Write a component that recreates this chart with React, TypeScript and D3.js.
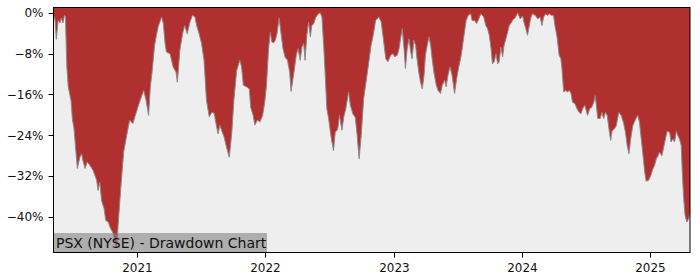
import React from "react";
import * as d3 from "d3";

const dates: string[] = [
"2020-05-07","2020-05-11","2020-05-15","2020-05-20","2020-05-25","2020-05-29","2020-06-03","2020-06-07","2020-06-10","2020-06-14",
"2020-06-18","2020-06-26","2020-06-30","2020-07-04","2020-07-12","2020-07-14","2020-07-21","2020-07-26","2020-07-30","2020-08-05",
"2020-08-11","2020-08-19","2020-08-28","2020-09-07","2020-09-11","2020-09-16","2020-09-21","2020-09-28","2020-10-03","2020-10-10",
"2020-10-15","2020-10-24","2020-11-01","2020-11-04","2020-11-07","2020-11-16","2020-11-23","2020-11-30","2020-12-10","2020-12-19",
"2020-12-29","2021-01-07","2021-01-19","2021-01-26","2021-02-02","2021-02-07","2021-02-12","2021-02-19","2021-02-26","2021-03-01",
"2021-03-11","2021-03-16","2021-03-21","2021-03-25","2021-04-04","2021-04-13","2021-04-21","2021-04-25","2021-05-02","2021-05-10",
"2021-05-16","2021-05-23","2021-05-31","2021-06-07","2021-06-14","2021-06-19","2021-06-26","2021-07-03","2021-07-10","2021-07-17",
"2021-07-25","2021-08-01","2021-08-08","2021-08-15","2021-08-19","2021-08-24","2021-08-29","2021-09-05","2021-09-12","2021-09-20",
"2021-09-27","2021-10-03","2021-10-11","2021-10-20","2021-10-25","2021-10-30","2021-11-08","2021-11-16","2021-11-20","2021-11-27",
"2021-12-02","2021-12-09","2021-12-16","2021-12-24","2021-12-30","2022-01-04","2022-01-10","2022-01-15","2022-01-19","2022-01-24",
"2022-01-29","2022-02-03","2022-02-09","2022-02-14","2022-02-20","2022-02-26","2022-03-05","2022-03-11","2022-03-15","2022-03-22",
"2022-03-30","2022-04-04","2022-04-10","2022-04-15","2022-04-20","2022-04-24","2022-04-29","2022-05-04","2022-05-09","2022-05-13",
"2022-05-18","2022-05-25","2022-06-01","2022-06-06","2022-06-11","2022-06-16","2022-06-20","2022-06-25","2022-06-30","2022-07-07",
"2022-07-14","2022-07-19","2022-07-26","2022-07-31","2022-08-07","2022-08-12","2022-08-18","2022-08-26","2022-08-31","2022-09-07",
"2022-09-14","2022-09-19","2022-09-25","2022-10-01","2022-10-08","2022-10-14","2022-10-22","2022-10-29","2022-11-05","2022-11-11",
"2022-11-20","2022-11-27","2022-12-03","2022-12-10","2022-12-16","2022-12-24","2022-12-31","2023-01-04","2023-01-12","2023-01-17",
"2023-01-21","2023-01-26","2023-01-31","2023-02-04","2023-02-09","2023-02-14","2023-02-19","2023-02-23","2023-02-28","2023-03-05",
"2023-03-09","2023-03-14","2023-03-19","2023-03-24","2023-03-29","2023-04-02","2023-04-07","2023-04-12","2023-04-17","2023-04-21",
"2023-04-26","2023-05-03","2023-05-08","2023-05-15","2023-05-20","2023-05-27","2023-05-31","2023-06-05","2023-06-11","2023-06-17",
"2023-06-24","2023-06-30","2023-07-06","2023-07-13","2023-07-21","2023-07-27","2023-08-02","2023-08-09","2023-08-13","2023-08-20",
"2023-08-26","2023-09-01","2023-09-07","2023-09-15","2023-09-21","2023-09-26","2023-10-01","2023-10-06","2023-10-10","2023-10-15",
"2023-10-20","2023-10-25","2023-10-29","2023-11-03","2023-11-08","2023-11-12","2023-11-20","2023-11-27","2023-12-03","2023-12-09",
"2023-12-14","2023-12-21","2023-12-28","2024-01-04","2024-01-08","2024-01-13","2024-01-18","2024-01-23","2024-01-28","2024-02-01",
"2024-02-09","2024-02-16","2024-02-23","2024-02-28","2024-03-04","2024-03-10","2024-03-15","2024-03-20","2024-03-26","2024-04-01",
"2024-04-05","2024-04-11","2024-04-17","2024-04-22","2024-04-25","2024-04-30","2024-05-06","2024-05-11","2024-05-16","2024-05-21",
"2024-05-25","2024-06-01","2024-06-07","2024-06-13","2024-06-18","2024-06-23","2024-06-29","2024-07-07","2024-07-13","2024-07-19",
"2024-07-25","2024-07-29","2024-08-01","2024-08-05","2024-08-12","2024-08-17","2024-08-22","2024-08-27","2024-09-01","2024-09-06",
"2024-09-11","2024-09-15","2024-09-22","2024-09-27","2024-10-04","2024-10-11","2024-10-18","2024-10-23","2024-10-28","2024-11-02",
"2024-11-07","2024-11-13","2024-11-20","2024-11-27","2024-12-02","2024-12-07","2024-12-12","2024-12-17","2024-12-21","2024-12-28",
"2025-01-03","2025-01-09","2025-01-14","2025-01-19","2025-01-24","2025-01-28","2025-02-04","2025-02-10","2025-02-14","2025-02-19",
"2025-02-26","2025-03-02","2025-03-07","2025-03-12","2025-03-17","2025-03-21","2025-03-26","2025-03-31","2025-04-03","2025-04-07",
"2025-04-11","2025-04-16","2025-04-21","2025-04-25"
];

const drawdown: number[] = [
-0.6,-1.2,-5.2,-1.5,-2.0,-1.0,-2.0,-0.5,-0.7,-10.6,
-14.5,-17.2,-21,-22.4,-28.9,-30.5,-28.3,-27.6,-29,-30.5,
-29.2,-29.9,-30.9,-32.8,-34.8,-33.2,-36.8,-38.3,-40.7,-41,
-42,-43.2,-46,-45.5,-41.7,-33.2,-27.3,-24.6,-21.0,-21.7,
-19.5,-17.5,-15.2,-17.2,-20.1,-14.5,-11.6,-6.4,-3.8,-2.8,
-0.8,-2.1,-6,-7.7,-8,-10.6,-11.6,-13.6,-7.4,-4,
-2.5,-4.1,-1.8,-0.5,-0.8,-2.5,-4.1,-6,-9.3,-17.2,
-20.4,-19.5,-19.7,-22.4,-23.7,-22,-23,-24.3,-26.3,-28.3,
-23.6,-17.2,-11.3,-9.3,-10.6,-14.2,-14.5,-14.9,-18.5,-20.1,
-22,-21,-21.4,-20.1,-17.5,-14.2,-7,-3.8,-5.7,-5.9,
-5.4,-4.1,-1.0,-3.8,-7,-8.7,-9.3,-11.6,-15.4,-12.3,
-8.3,-7,-9.3,-6.7,-6.0,-9.3,-4.4,-1.8,-4.7,-2.5,
-2.2,-0.8,-0.2,0,-0.8,-6.4,-11.6,-18.8,-20.7,-24.3,
-27,-23.4,-22.8,-20.1,-23,-20.5,-18.8,-15.5,-18.1,-19.8,
-20.5,-23.7,-28.6,-24,-16.8,-13.9,-10,-6.4,-4.1,-1.5,
-0.8,-1.8,-5.1,-9,-9.6,-8.3,-8.0,-8.6,-8.3,-7,
-5.1,-3.1,-7,-10.9,-7,-5.1,-7.6,-9,-5.4,-6.4,
-9,-11.6,-13.6,-14.9,-12.3,-8.3,-6.4,-4.7,-6.4,-9,
-11.6,-14.2,-15.2,-15.8,-14.2,-13.2,-14.5,-12.3,-10.6,-12.3,
-15.8,-12.9,-10.6,-8.3,-4.4,-1.5,-0.5,-0.2,-1.5,-1.5,
-2.1,-1.2,-0.2,-0.8,-2.5,-3.1,-4.4,-7,-10,-9.6,
-8,-10,-9.6,-6.7,-8.6,-6.4,-4.4,-2.5,-1.9,-1.2,
-1.0,0,-1.2,-0.6,-1.9,-3.1,-4.4,-2.5,-0.8,-0.2,
-0.5,-1.2,-0.8,-2.5,-0.8,-0.2,-0.5,-0.2,-0.5,-0.5,
-2.5,-4.7,-8.3,-9.0,-10.9,-15.5,-15.2,-15.5,-15.2,-15.8,
-17.5,-17.8,-18.8,-19.5,-19.8,-18.8,-18.1,-20.1,-18.8,-18.5,
-17.5,-16.2,-18.1,-20.7,-20.7,-19.5,-20.7,-19.5,-20.1,-22.7,
-25,-23.1,-22.7,-22.1,-19.5,-20.1,-21.7,-23.4,-26,-27.6,
-24.7,-22.1,-21,-20.1,-21.4,-24.7,-27.9,-31.2,-33,-32.8,
-31.9,-30.6,-29.9,-28.6,-28,-27.3,-28,-26,-24.7,-23.2,
-23.4,-25.3,-24.7,-25.3,-23.2,-24,-24.7,-26,-31.2,-36.4,
-39.7,-41,-40.4,-39.3
];

const yTicks: number[] = [0, -8, -16, -24, -32, -40];
const xTickYears: number[] = [2021, 2022, 2023, 2024, 2025];
const title = "PSX (NYSE) - Drawdown Chart";

export default function App() {
  const W = 700, H = 280;
  const L = 53.5, R = 690, T = 7.5, B = 252.5;
  const parse = d3.utcParse("%Y-%m-%d");
  const data = dates.map((d, i) => ({ date: parse(d) as Date, v: drawdown[i] }));
  const x = d3.scaleUtc()
    .domain([parse("2020-05-07") as Date, parse("2025-04-25") as Date])
    .range([L, R]);
  const y = d3.scaleLinear().domain([-46.96, 1.04]).range([B, T]);
  const area = d3.area<{ date: Date; v: number }>()
    .x(d => x(d.date))
    .y0(T)
    .y1(d => y(d.v));
  const line = d3.line<{ date: Date; v: number }>()
    .x(d => x(d.date))
    .y(d => y(d.v));
  const font = "DejaVu Sans, sans-serif";
  const fmt = (v: number) => (v < 0 ? "\u2212" + Math.abs(v) : String(v)) + "%";
  return (
    <svg width={W} height={H} style={{ position: "absolute", left: 0, top: 0, background: "#fff" }}>
      <defs>
        <clipPath id="plot">
          <rect x={L} y={T} width={R - L} height={B - T} />
        </clipPath>
      </defs>
      <rect x={L} y={T} width={R - L} height={B - T} fill="#eeeeee" />
      <g clipPath="url(#plot)">
        <path d={area(data) || ""} fill="#b03030" />
        <path d={line(data) || ""} fill="none" stroke="#8a8a8a" strokeWidth={1} />
        <rect x={L} y={233} width={267 - L} height={B - 233} fill="#808080" fillOpacity={0.58} />
      </g>
      <text x={56} y={247.6} fontFamily={font} fontSize={14} fill="#111">{title}</text>
      <rect x={L} y={T} width={R - L} height={B - T} fill="none" stroke="#000" strokeWidth={1} />
      {yTicks.map(t => (
        <g key={t}>
          <line x1={L - 5} x2={L} y1={Math.round(y(t)) + 0.5} y2={Math.round(y(t)) + 0.5} stroke="#000" />
          <text x={43.5} y={y(t)} dy="0.36em" textAnchor="end" fontFamily={font} fontSize={12} fill="#111">{fmt(t)}</text>
        </g>
      ))}
      {xTickYears.map(yr => {
        const px = Math.round(x(new Date(Date.UTC(yr, 0, 1)))) + 0.5;
        return (
          <g key={yr}>
            <line x1={px} x2={px} y1={B} y2={B + 5} stroke="#000" />
            <text x={px} y={272.3} textAnchor="middle" fontFamily={font} fontSize={12} fill="#111">{yr}</text>
          </g>
        );
      })}
    </svg>
  );
}
